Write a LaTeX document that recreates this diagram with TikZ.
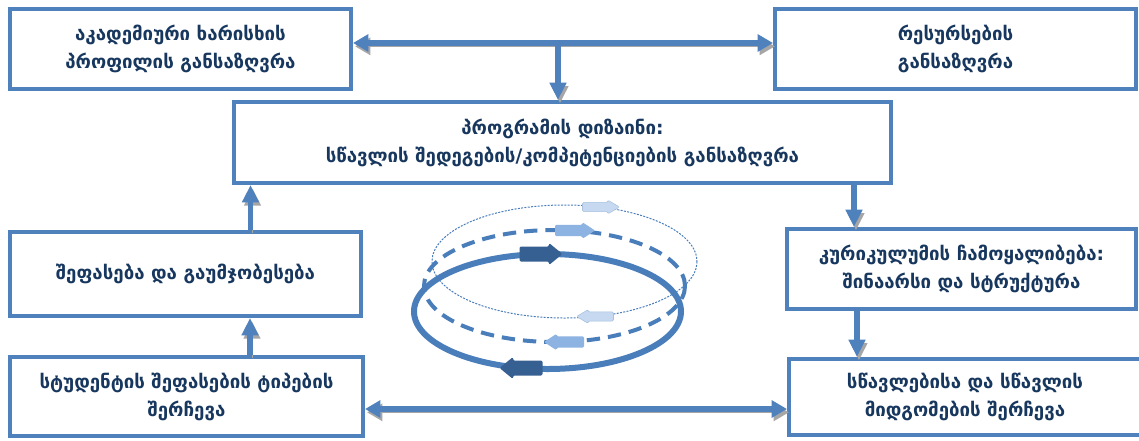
\documentclass[tikz,border=0pt]{standalone}
\usepackage{fontspec}
\setmainfont{DejaVu Sans}
\usetikzlibrary{arrows.meta,calc}
\definecolor{boxblue}{HTML}{4F81BD}
\definecolor{ringblue}{HTML}{4A7EBB}
\definecolor{txtnavy}{HTML}{17375E}
\definecolor{shadowgray}{HTML}{A6A6A6}
\definecolor{arrdark}{HTML}{376092}
\definecolor{arrmid}{HTML}{8DB3E2}
\definecolor{arrlight}{HTML}{C6D9F1}
\definecolor{arrlightedge}{HTML}{A7C0DE}
\newcommand{\blkarrow}[5]{%
  \begin{scope}[shift={(#1)}, xscale=#2, yscale=#3]
    \fill[#4, rounded corners=1pt, #5] (-21.5,-7.5) -- (8,-7.5) -- (8,-11) -- (21.5,0) -- (8,11) -- (8,7.5) -- (-21.5,7.5) -- cycle;
  \end{scope}}
\begin{document}
\begin{tikzpicture}[x=0.75pt,y=-0.75pt,
  box/.style={draw=boxblue, line width=3pt, fill=white, align=center,
    font=\bfseries\fontsize{14}{21}\selectfont, text=txtnavy, inner sep=0pt},
  conn/.style={draw=boxblue, line width=4pt, -{Triangle[length=13pt,width=12pt]},
    preaction={draw=shadowgray, transform canvas={xshift=1.5pt,yshift=-2.5pt}}},
  conntwo/.style={draw=boxblue, line width=4pt, {Triangle[length=11.5pt,width=12.5pt]}-{Triangle[length=11.5pt,width=12.5pt]},
    preaction={draw=shadowgray, transform canvas={xshift=1.5pt,yshift=-2.5pt}}},
]
\useasboundingbox (0,0) rectangle (1139,440);
\fill[white] (0,0) rectangle (1139,440);

% boxes
\node[box, minimum width=255.75pt, minimum height=60pt] (b1) at (180.5,49) {აკადემიური ხარისხის\\პროფილის განსაზღვრა};
\node[box, minimum width=270.75pt, minimum height=60pt] (b2) at (955.5,49) {რესურსების\\განსაზღვრა};
\node[box, minimum width=492.75pt, minimum height=60.75pt] (b3) at (562.5,142.5) {პროგრამის დიზაინი:\\სწავლის შედეგების/კომპეტენციების განსაზღვრა};
\node[box, minimum width=263.25pt, minimum height=63pt] (b4) at (185.5,274) {შეფასება და გაუმჯობესება};
\node[box, minimum width=264.75pt, minimum height=59.25pt] (b5) at (186.5,396.5) {სტუდენტის შეფასების ტიპების\\შერჩევა};
\node[box, minimum width=261.75pt, minimum height=60pt] (b6) at (961.5,269) {კურიკულუმის ჩამოყალიბება:\\შინაარსი და სტრუქტურა};
\node[box, minimum width=264pt, minimum height=57pt] (b7) at (965,397) {სწავლებისა და სწავლის\\მიდგომების შერჩევა};

% connectors
\coordinate (c1) at ($(b1.east)+(0,-6)$);
\coordinate (j1) at (558,43);
\coordinate (c5) at ($(b5.east)+(0,12.5)$);
\coordinate (a45) at ($(b4.north)+(65,0)$);
\coordinate (a54) at ($(b5.north)+(63.5,0)$);
\coordinate (a36) at ($(b3.south)+(291.5,0)$);
\coordinate (a67) at ($(b6.south)+(-104.5,0)$);

\draw[conntwo] (c1) -- (c1 -| b2.west);
\draw[conn] (j1) -- (j1 |- b3.north);
\draw[conn] (a36) -- (a36 |- b6.north);
\draw[conn] (a67) -- (a67 |- b7.north);
\draw[conntwo] (c5) -- (c5 -| b7.west);
\draw[conn] (a54) -- (a54 |- b4.south);
\draw[conn] (a45) -- (a45 |- b3.south);

% rings
\draw[ringblue, line width=0.75pt, dash pattern=on 1.5pt off 1pt] (564.5,261.5) ellipse [x radius=132.5, y radius=56.5];
\draw[ringblue, line width=3pt, dash pattern=on 10pt off 6pt] (554.5,286) ellipse [x radius=130.5, y radius=56];
\draw[ringblue, line width=4.5pt] (547.5,311.5) ellipse [x radius=133.5, y radius=57.5];

% ring arrows
\blkarrow{601,207}{0.86}{0.62}{arrlight}{draw=arrlightedge, line width=0.4pt}
\blkarrow{595,316.5}{-0.86}{0.62}{arrlight}{draw=arrlightedge, line width=0.4pt}
\blkarrow{575,230.5}{0.93}{0.75}{arrmid}{}
\blkarrow{564,342}{-0.93}{0.75}{arrmid}{}
\blkarrow{541,254}{1}{1}{arrdark}{}
\blkarrow{521,368}{-1}{1}{arrdark}{}
\end{tikzpicture}
\end{document}
